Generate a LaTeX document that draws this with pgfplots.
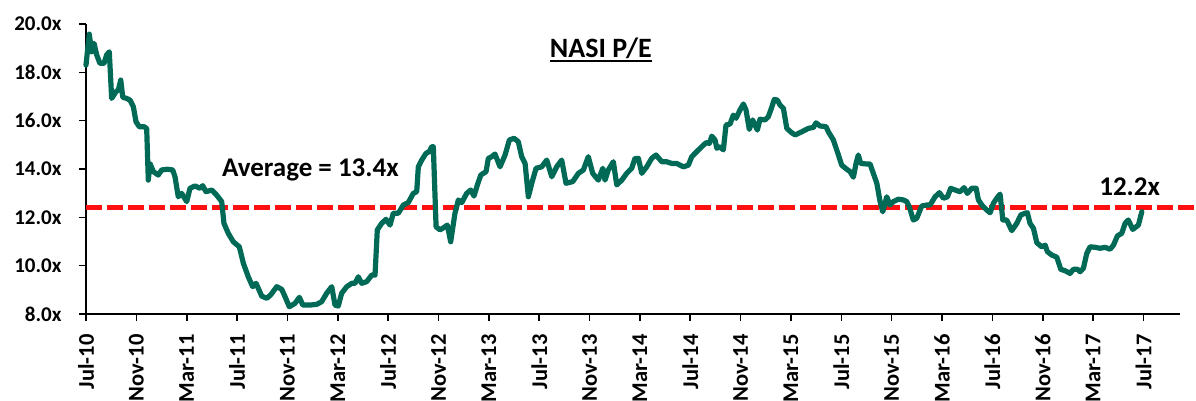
\documentclass[border=0pt]{standalone}
\usepackage{fontspec}
\setmainfont{Carlito}
\usepackage{pgfplots}
\pgfplotsset{compat=1.18}
\definecolor{pe}{RGB}{0,106,86}
\definecolor{avg}{RGB}{255,16,16}
\begin{document}
\begin{tikzpicture}
\begin{axis}[
  name=ax, at={(0,0)}, anchor=south west,
  scale only axis, width=1094pt, height=290pt,
  xmin=0, xmax=86.9, ymin=8, ymax=20,
  axis x line=bottom, axis y line=left,
  axis line style={line width=1.6pt,-,black},
  tick align=outside, major tick length=7pt,
  every tick/.style={line width=1.6pt,black},
  xtick={0,4,...,84},
  xticklabels={Jul-10,Nov-10,Mar-11,Jul-11,Nov-11,Mar-12,Jul-12,Nov-12,Mar-13,Jul-13,Nov-13,Mar-14,Jul-14,Nov-14,Mar-15,Jul-15,Nov-15,Mar-16,Jul-16,Nov-16,Mar-17,Jul-17},
  ytick={8,10,...,20},
  yticklabels={8.0x,10.0x,12.0x,14.0x,16.0x,18.0x,20.0x},
  x tick label style={rotate=90,anchor=east,xshift=-10pt,font=\fontsize{22.5}{27}\selectfont\bfseries},
  y tick label style={xshift=-14pt,font=\fontsize{21}{25}\selectfont\bfseries},
  clip=false,
]
\addplot[avg, line width=4.5pt, dash pattern=on 16pt off 5pt] coordinates {(0,12.4) (88.2,12.4)};
\addplot[pe, line width=5.2pt, line join=round, line cap=round] coordinates {
(0,18.30) (0.26,19.58) (0.45,18.85) (0.64,19.2) (0.85,18.72) (1.11,18.37) (1.43,18.37) (1.64,18.72) (1.85,18.85)
(2.04,16.92) (2.38,17.2) (2.57,17.27) (2.76,17.68) (2.92,16.97) (3.23,16.92) (3.50,16.85) (3.76,16.58) (3.97,15.96)
(4.23,15.75) (4.61,15.75) (4.82,15.68) (4.95,13.54) (5.08,14.23) (5.35,13.89) (5.74,13.75) (6.01,13.96) (6.46,13.99)
(6.89,13.96) (7.07,13.68) (7.33,12.85) (7.60,12.99) (8.00,12.65) (8.26,13.2) (8.66,13.3) (9.06,13.2) (9.27,13.31)
(9.53,13.06) (9.99,13.13) (10.38,12.92) (10.78,12.65) (10.96,11.75) (11.30,11.34) (11.70,10.99) (12.18,10.78)
(12.50,10.1) (12.89,9.54) (13.24,9.13) (13.51,9.27) (13.96,8.74) (14.36,8.65) (14.67,8.79) (15.15,9.13) (15.55,9.02)
(15.81,8.72) (16.15,8.30) (16.60,8.44) (16.95,8.69) (17.22,8.37) (17.80,8.37) (18.33,8.40) (18.72,8.51) (19.12,8.86)
(19.52,9.13) (19.78,8.37) (20.04,8.33) (20.31,8.86) (20.71,9.13) (21.11,9.27) (21.37,9.27) (21.63,9.54) (21.90,9.27)
(22.30,9.34) (22.70,9.61) (22.96,9.61) (23.14,11.48) (23.49,11.75) (23.83,11.92) (24.15,11.68) (24.41,12.17)
(24.81,12.17) (25.21,12.51) (25.60,12.61) (26.00,12.99) (26.27,13.06) (26.40,14.09) (26.67,14.37) (27.01,14.65)
(27.27,14.72) (27.46,14.92) (27.59,14.92) (27.81,11.61) (28.12,11.48) (28.52,11.61) (28.70,11.68) (28.97,10.99)
(29.31,12.17) (29.58,12.72) (29.85,12.61) (30.24,12.99) (30.56,13.13) (30.82,12.88) (31.09,13.34) (31.36,13.75)
(31.78,13.89) (31.96,14.44) (32.23,14.51) (32.49,14.62) (32.89,14.09) (33.29,14.58) (33.63,15.2) (34.00,15.27)
(34.34,15.13) (34.61,14.51) (34.88,14.23) (35.14,12.85) (35.41,13.41) (35.75,14.03) (36.20,14.09) (36.60,14.37)
(37.00,13.68) (37.39,14.09) (37.79,14.37) (38.13,13.41) (38.67,13.48) (39.11,13.82) (39.51,13.96) (39.90,14.51)
(40.25,13.82) (40.70,13.54) (41.05,14.03) (41.23,13.54) (41.49,13.96) (41.89,14.30) (42.16,13.34) (42.56,13.54)
(42.95,13.82) (43.35,14.03) (43.61,14.44) (43.88,14.44) (44.15,13.82) (44.54,14.09) (44.94,14.44) (45.28,14.58)
(45.74,14.30) (46.13,14.30) (46.53,14.23) (46.93,14.23) (47.45,14.09) (47.85,14.16) (48.12,14.51) (48.52,14.72)
(48.91,14.92) (49.26,15.09) (49.52,15.06) (49.71,15.36) (49.97,15.2) (50.11,14.86) (50.37,14.92) (50.63,14.79)
(50.84,15.82) (51.16,15.86) (51.42,16.23) (51.64,16.1) (51.95,16.44) (52.22,16.69) (52.43,16.44) (52.69,15.64)
(52.96,16.03) (53.33,15.61) (53.54,16.06) (53.94,16.03) (54.20,16.16) (54.47,16.55) (54.68,16.88) (54.92,16.85)
(55.13,16.65) (55.40,16.51) (55.67,15.68) (56.06,15.50) (56.33,15.41) (56.86,15.54) (57.38,15.68) (57.78,15.72)
(57.99,15.91) (58.31,15.78) (58.79,15.75) (58.97,15.54) (59.37,15.20) (59.77,14.58) (60.03,14.16) (60.43,13.99)
(60.70,13.89) (60.96,13.66) (61.17,14.23) (61.35,14.58) (61.54,14.23) (61.97,14.21) (62.28,14.21) (62.82,13.41)
(63.08,12.65) (63.29,12.23) (63.61,12.85) (63.87,12.51) (64.13,12.65) (64.53,12.75) (64.93,12.72) (65.20,12.65)
(65.40,12.44) (65.72,11.89) (65.99,11.96) (66.39,12.47) (66.79,12.51) (67.05,12.51) (67.45,12.85) (67.79,13.02)
(68.11,12.79) (68.43,12.85) (68.69,13.20) (69.04,13.13) (69.43,13.06) (69.75,13.23) (70.01,12.99) (70.36,13.20)
(70.71,13.20) (70.89,12.72) (71.16,12.51) (71.56,12.30) (71.82,12.19) (72.08,12.58) (72.35,12.79) (72.61,12.96)
(72.83,11.89) (73.14,11.89) (73.54,11.45) (73.94,11.75) (74.26,12.10) (74.60,12.17) (74.78,12.19) (74.99,11.75)
(75.26,11.55) (75.53,10.95) (75.92,10.78) (76.19,10.85) (76.37,10.58) (76.72,10.44) (77.12,10.35) (77.43,9.85)
(77.78,9.79) (78.17,9.68) (78.44,9.85) (78.75,9.85) (78.97,9.75) (79.23,9.89) (79.50,10.51) (79.76,10.78)
(80.16,10.76) (80.56,10.72) (80.95,10.76) (81.35,10.68) (81.62,10.85) (81.93,11.23) (82.28,11.34) (82.54,11.75)
(82.80,11.89) (83.15,11.50) (83.60,11.68) (83.87,12.23)
};
\node[anchor=base, inner sep=0pt, font=\fontsize{28}{32}\selectfont\bfseries] (t) at (axis cs:40.9,18.63) {NASI P/E};
\draw[line width=1.8pt] ([yshift=-4pt]t.base west) -- ([yshift=-4pt]t.base east);
\node[anchor=base west, inner sep=0pt, font=\fontsize{27}{32}\selectfont\bfseries] at (axis cs:10.8,13.71) {Average = 13.4x};
\node[anchor=base west, inner sep=0pt, font=\fontsize{27}{32}\selectfont\bfseries] at (axis cs:80.48,12.92) {12.2x};
\end{axis}
\pgfresetboundingbox
\path (ax.south west) ++(-86pt,-87pt) rectangle ++(1196pt,401pt);
\end{tikzpicture}
\end{document}
